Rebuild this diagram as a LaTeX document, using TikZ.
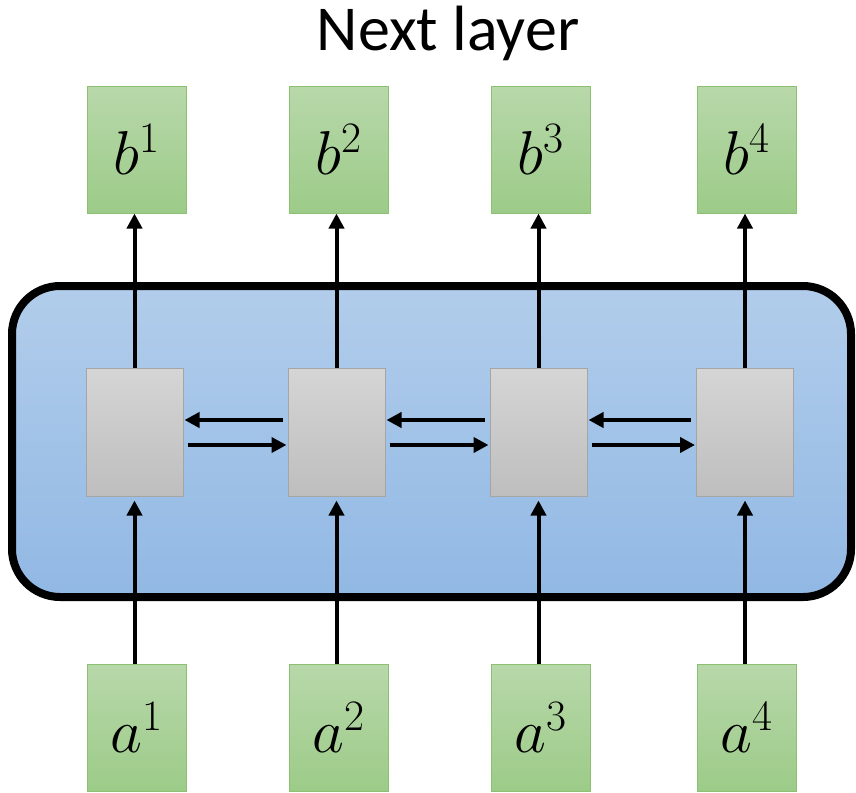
\RequirePackage{fix-cm}
\documentclass[tikz,border=0pt]{standalone}
\usepackage{fontspec}
\newfontfamily\titlefont{Carlito}
\usetikzlibrary{arrows.meta}
\definecolor{bluetop}{RGB}{178,205,235}
\definecolor{bluebot}{RGB}{145,184,228}
\definecolor{greentop}{RGB}{184,216,170}
\definecolor{greenbot}{RGB}{156,203,136}
\definecolor{greenedge}{RGB}{140,192,115}
\definecolor{graytop}{RGB}{213,213,213}
\definecolor{graybot}{RGB}{190,190,190}
\definecolor{grayedge}{RGB}{165,165,165}
\tikzset{
  x=1pt, y=-1pt,
  cell/.style={draw=grayedge, line width=1pt, top color=graytop, bottom color=graybot,
    minimum width=97pt, minimum height=128pt, inner sep=0pt},
  vec/.style={draw=greenedge, line width=1pt, top color=greentop, bottom color=greenbot,
    minimum width=99pt, minimum height=127pt, inner sep=0pt, font=\fontsize{62}{64}\selectfont},
  arr/.style={line width=4pt, -{Triangle[length=15pt,width=15pt]}},
  layerbox/.style={line width=8pt, rounded corners=48pt, top color=bluetop, bottom color=bluebot},
}
\begin{document}
\begin{tikzpicture}
\useasboundingbox (0,0) rectangle (856,792);
% recurrent layer
\path[layerbox, draw=black] (12,286) rectangle (851,597);
% title
\node (title) at (448,33) {\titlefont\fontsize{64}{66}\selectfont Next layer};
% hidden cells
\node[cell] (g1) at (134.5,432) {};
\node[cell] (g2) at (336.5,432) {};
\node[cell] (g3) at (538.5,432) {};
\node[cell] (g4) at (745,432) {};
% outputs
\node[vec] (b1) at (136.5,149.5) {$b^1$};
\node[vec] (b2) at (338.5,149.5) {$b^2$};
\node[vec] (b3) at (540.5,149.5) {$b^3$};
\node[vec] (b4) at (746.5,149.5) {$b^4$};
% inputs
\node[vec] (a1) at (136.5,727.5) {$a^1$};
\node[vec] (a2) at (338.5,727.5) {$a^2$};
\node[vec] (a3) at (540.5,727.5) {$a^3$};
\node[vec] (a4) at (746.5,727.5) {$a^4$};
% vertical connections
\foreach \i in {1,2,3,4}{
  \draw[arr] (g\i.north) -- (g\i.north |- b\i.south);
  \draw[arr, shorten >=4pt] (g\i.south |- a\i.north) -- (g\i.south);
}
% bidirectional connections between cells
\foreach \i/\j in {1/2,2/3,3/4}{
  \draw[arr] ([xshift=-5pt,yshift=12pt]g\j.west) -- ([xshift=1pt,yshift=12pt]g\i.east);
  \draw[arr] ([xshift=4pt,yshift=-13pt]g\i.east) -- ([xshift=-1pt,yshift=-13pt]g\j.west);
}
\end{tikzpicture}
\end{document}
